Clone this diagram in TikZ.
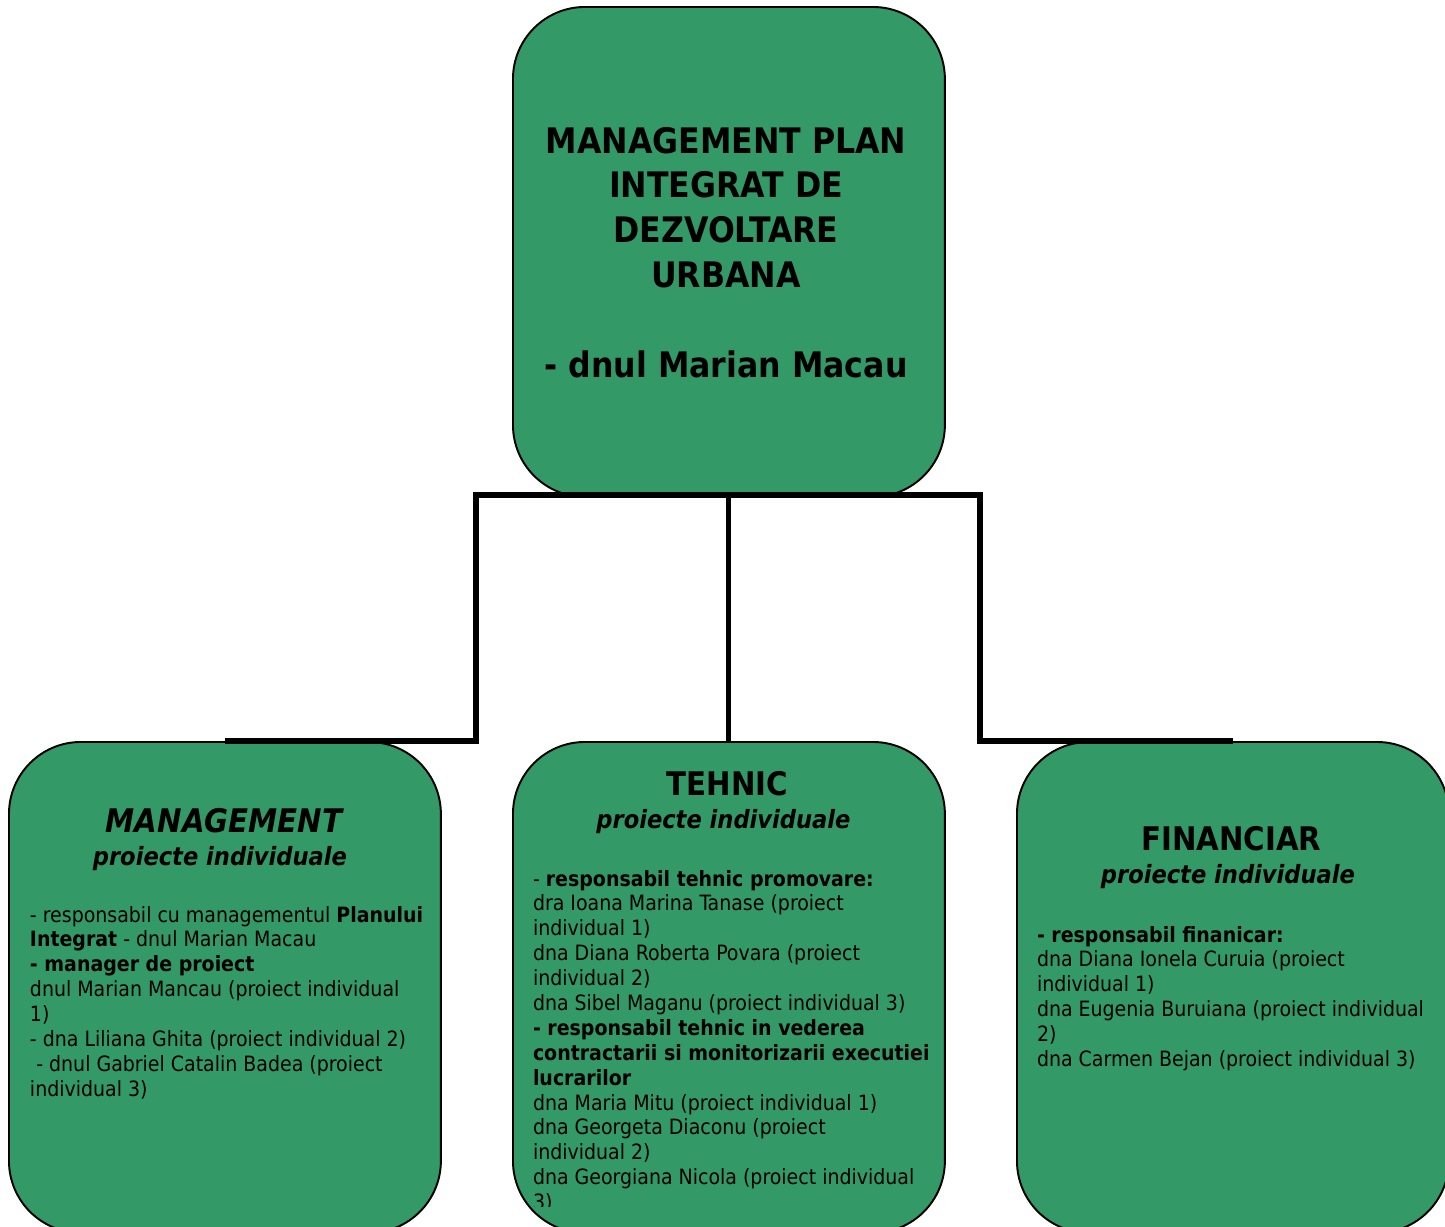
\documentclass[tikz,border=0pt]{standalone}
\usepackage{fontspec}
\setmainfont{DejaVu Sans Condensed}
\definecolor{boxgreen}{RGB}{51,153,102}
\tikzset{
  orgbox/.style={draw=black, line width=1.1pt, fill=boxgreen, rounded corners=1.44cm,
    minimum width=8.64cm, minimum height=9.82cm, inner sep=0pt, anchor=north west},
  link/.style={draw=black, line width=2.9pt},
  txt/.style={inner sep=0pt, outer sep=0pt, anchor=base west},
  ctxt/.style={inner sep=0pt, outer sep=0pt, anchor=base},
  headfont/.style={font=\fontsize{18.5}{22}\selectfont\bfseries\itshape},
  subfont/.style={font=\fontsize{14.3}{17}\selectfont\bfseries\itshape},
}
\newcommand{\bodytext}[1]{\parbox[t]{10cm}{\fontsize{12}{14.17}\selectfont\raggedright #1}}
\begin{document}
\begin{tikzpicture}[x=0.02cm, y=-0.02cm]
\clip (0,0) rectangle (1445,1227);
\useasboundingbox (0,0) rectangle (1445,1227);

% boxes
\node[orgbox, minimum height=9.8cm] (top) at (512,6) {};
\node[orgbox] (mgmt) at (8,741) {};
\node[orgbox] (teh) at (512,741) {};
\node[orgbox] (fin) at (1016,741) {};

% connectors
\coordinate (busL) at (476,495);
\coordinate (busR) at (980,495);
\draw[link] (mgmt.north) -| (busL) -- (busR) |- (fin.north);
\draw[link] (top.south) -- (teh.north);

% top text
\node[ctxt] (toptext) at (726,153) {\parbox[t]{8cm}{\centering\fontsize{20}{25.5}\selectfont\bfseries
MANAGEMENT PLAN\\INTEGRAT DE\\DEZVOLTARE\\URBANA\\[25.5pt]- dnul Marian Macau}};

% management
\node[ctxt, headfont] (mgmth) at (224,832) {MANAGEMENT};
\node[ctxt, subfont] (mgmts) at (220,865) {proiecte individuale};
\node[txt] (mgmtb) at (30,922) {\bodytext{%
- responsabil cu managementul \textbf{Planului}\\
\textbf{Integrat} - dnul Marian Macau\\
\textbf{- manager de proiect}\\
dnul Marian Mancau (proiect individual\\
1)\\
- dna Liliana Ghita (proiect individual 2)\\
\hspace*{0.3em}- dnul Gabriel Catalin Badea (proiect\\
individual 3)}};

% tehnic
\node[ctxt, font=\fontsize{18.5}{22}\selectfont\bfseries] (tehh) at (727.5,795) {TEHNIC};
\node[ctxt, subfont] (tehs) at (723.5,828) {proiecte individuale};
\begin{scope}
\clip (512,741) rectangle (944,1206);
\node[txt] (tehb) at (533,886) {\bodytext{%
- \textbf{responsabil tehnic promovare:}\\
dra Ioana Marina Tanase (proiect\\
individual 1)\\
dna Diana Roberta Povara (proiect\\
individual 2)\\
dna Sibel Maganu (proiect individual 3)\\
\textbf{- responsabil tehnic in vederea}\\
\textbf{contractarii si monitorizarii executiei}\\
\textbf{lucrarilor}\\
dna Maria Mitu (proiect individual 1)\\
dna Georgeta Diaconu (proiect\\
individual 2)\\
dna Georgiana Nicola (proiect individual\\
3)}};
\end{scope}

% financiar
\node[ctxt, font=\fontsize{18.5}{22}\selectfont\bfseries] (finh) at (1231.5,850) {FINANCIAR};
\node[ctxt, subfont] (fins) at (1228,883) {proiecte individuale};
\node[txt] (finb) at (1037,942) {\bodytext{%
\textbf{- responsabil finanicar:}\\
dna Diana Ionela Curuia (proiect\\
individual 1)\\
dna Eugenia Buruiana (proiect individual\\
2)\\
dna Carmen Bejan (proiect individual 3)}};
\end{tikzpicture}
\end{document}
